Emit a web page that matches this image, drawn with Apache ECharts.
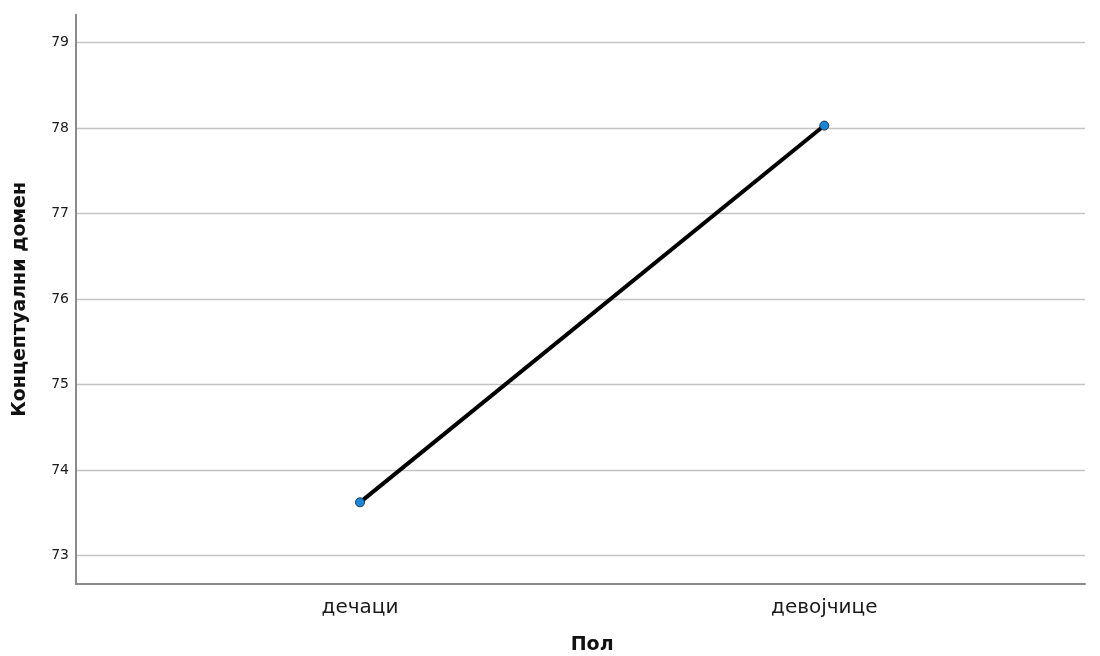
<!DOCTYPE html>
<html><head><meta charset="utf-8">
<script src="https://cdn.jsdelivr.net/npm/echarts@6/dist/echarts.min.js"></script>
<style>html,body{margin:0;padding:0;background:#fff}#c{width:1100px;height:656px}</style>
</head><body><div id="c"></div>
<script>
const categories = ['дечаци', 'девојчице'];
const values = [73.62, 78.03];
const yTicks = {min: 73, max: 79, interval: 1};
const xTitle = 'Пол';
const yTitle = 'Концептуални домен';

const font = '"DejaVu Sans", "Noto Sans", sans-serif';
const chart = echarts.init(document.getElementById('c'));
chart.setOption({
  animation: false,
  grid: [
    {left: 76, right: 15, top: 42.7, bottom: 100.7, outerBoundsMode: 'none', containLabel: false},
    {left: 76, right: 15, top: 14.7, bottom: 72, outerBoundsMode: 'none', containLabel: false},
    {left: 360, right: 275.7, top: 42.7, bottom: 100.7, outerBoundsMode: 'none', containLabel: false}
  ],
  xAxis: [
    {gridIndex: 0, type: 'category', data: categories, show: false},
    {gridIndex: 1, type: 'value', min: 0, max: 1,
     axisLine: {show: true, lineStyle: {color: '#8a8a8a', width: 2}},
     axisTick: {show: false}, axisLabel: {show: false}, splitLine: {show: false}},
    {gridIndex: 2, type: 'category', data: categories, boundaryGap: false,
     axisLine: {show: false}, axisTick: {show: false},
     axisLabel: {margin: 42, fontFamily: font, fontSize: 20, color: '#1a1a1a'},
     name: xTitle, nameLocation: 'middle', nameGap: 90,
     nameTextStyle: {fontFamily: font, fontWeight: 'bold', fontSize: 19, color: '#111', verticalAlign: 'middle'}}
  ],
  yAxis: [
    {gridIndex: 0, type: 'value', min: yTicks.min, max: yTicks.max, interval: yTicks.interval,
     axisLine: {show: false}, axisTick: {show: false},
     axisLabel: {margin: 7, fontFamily: font, fontSize: 14, color: '#1a1a1a'},
     splitLine: {show: true, lineStyle: {color: '#c4c4c4', width: 1.3}}},
    {gridIndex: 1, type: 'value', min: 0, max: 1,
     axisLine: {show: true, lineStyle: {color: '#8a8a8a', width: 2}},
     axisTick: {show: false}, axisLabel: {show: false}, splitLine: {show: false},
     name: yTitle, nameLocation: 'middle', nameGap: 46, nameRotate: 90,
     nameTextStyle: {fontFamily: font, fontWeight: 'bold', fontSize: 19, color: '#111'}},
    {gridIndex: 2, type: 'value', min: yTicks.min, max: yTicks.max, show: false, splitLine: {show: false}}
  ],
  series: [{
    type: 'line', xAxisIndex: 2, yAxisIndex: 2, data: values,
    lineStyle: {color: '#000', width: 4},
    symbol: 'circle', symbolSize: 9,
    itemStyle: {color: '#1a86d8', borderColor: '#1a3550', borderWidth: 1}
  }]
});
</script></body></html>
